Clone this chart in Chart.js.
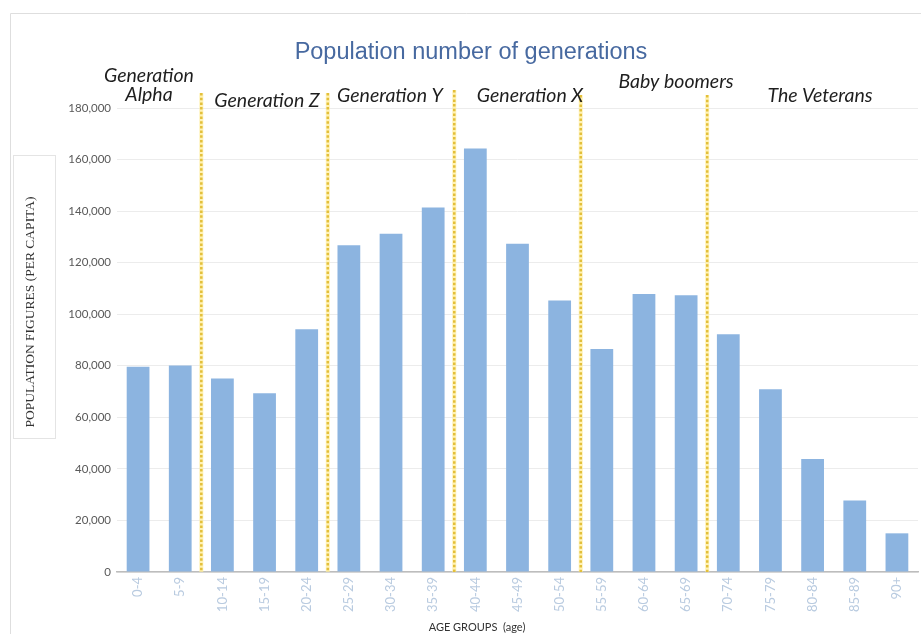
<!DOCTYPE html>
<html>
<head>
<meta charset="utf-8">
<script src="https://cdn.jsdelivr.net/npm/chart.js@4.4.1/dist/chart.umd.min.js"></script>
<style>
  html, body { margin: 0; padding: 0; background: #ffffff; }
  #wrap { width: 921px; height: 634px; position: relative; }
  canvas { display: block; }
</style>
</head>
<body>
<div id="wrap"><canvas id="chart" width="921" height="634"></canvas></div>
<script>
// Age groups on the category axis
const ageGroups = ["0-4", "5-9", "10-14", "15-19", "20-24", "25-29", "30-34", "35-39", "40-44",
  "45-49", "50-54", "55-59", "60-64", "65-69", "70-74", "75-79", "80-84", "85-89", "90+"];

// Population per age group
const population = [79600, 80100, 75100, 69300, 94200, 126800, 131200, 141400, 164300,
  127300, 105300, 86500, 107800, 107400, 92200, 70900, 43800, 27700, 15000];

// Value axis range and step
const yMax = 180000;
const yStep = 20000;

// Generation names (multi-line where wrapped) and the first age group of each generation
const generationNames = [["Generation", "Alpha"], ["Generation Z"], ["Generation Y"],
  ["Generation X"], ["Baby boomers"], ["The Veterans"]];
const generationStarts = ["0-4", "10-14", "25-29", "40-44", "55-59", "70-74"];

const chartTitle = "Population number of generations";
const yAxisTitle = "POPULATION FIGURES (PER CAPITA)";
const xAxisTitle = "AGE GROUPS  (age)";

// Where each generation name sits (centre x, baseline y of first line)
const generationLabelAnchors = [
  { x: 149, y: 82 }, { x: 267, y: 107 }, { x: 390, y: 102 },
  { x: 530, y: 102 }, { x: 676, y: 88 }, { x: 820, y: 102 }
];
// Top end of each dotted divider, one per generation boundary
const dividerTops = [93, 93, 90, 95, 95];

const decorPlugin = {
  id: 'decor',
  beforeDraw(chart) {
    const ctx = chart.ctx;
    ctx.save();
    // outer frame
    ctx.strokeStyle = '#dedede';
    ctx.lineWidth = 1;
    ctx.beginPath();
    ctx.moveTo(10.5, 640);
    ctx.lineTo(10.5, 13.5);
    ctx.lineTo(930, 13.5);
    ctx.stroke();
    // box around the value-axis title
    ctx.strokeStyle = '#e4e4e4';
    ctx.strokeRect(13.5, 155.5, 42, 283);
    ctx.restore();
  },
  afterDatasetsDraw(chart) {
    const ctx = chart.ctx;
    const xs = chart.scales.x;
    const area = chart.chartArea;
    ctx.save();
    generationStarts.slice(1).forEach((label, k) => {
      const i = ageGroups.indexOf(label);
      const x = (xs.getPixelForValue(i - 1) + xs.getPixelForValue(i)) / 2;
      const top = dividerTops[k];
      // pale band under the dots
      ctx.strokeStyle = 'rgba(255, 236, 150, 0.7)';
      ctx.lineWidth = 4;
      ctx.setLineDash([]);
      ctx.beginPath();
      ctx.moveTo(x, top);
      ctx.lineTo(x, area.bottom);
      ctx.stroke();
      // dots
      ctx.strokeStyle = '#e3bf3a';
      ctx.lineWidth = 2.5;
      ctx.setLineDash([2.5, 2.2]);
      ctx.beginPath();
      ctx.moveTo(x, top);
      ctx.lineTo(x, area.bottom);
      ctx.stroke();
    });
    ctx.restore();
  },
  afterDraw(chart) {
    const ctx = chart.ctx;
    ctx.save();
    // chart title
    ctx.fillStyle = '#4769a0';
    ctx.font = '23.5px "Liberation Sans", Arial, sans-serif';
    ctx.textAlign = 'center';
    ctx.textBaseline = 'alphabetic';
    ctx.fillText(chartTitle, 471, 59);

    // generation names
    ctx.fillStyle = '#1e1e1e';
    ctx.font = 'italic 19.5px Lato, sans-serif';
    generationNames.forEach((lines, k) => {
      const a = generationLabelAnchors[k];
      lines.forEach((line, j) => ctx.fillText(line, a.x, a.y + j * 19));
    });

    // category-axis title
    ctx.fillStyle = '#333333';
    ctx.font = '11px Lato, sans-serif';
    ctx.fillText(xAxisTitle, 477, 631);

    // value-axis title
    ctx.translate(30, 312);
    ctx.rotate(-Math.PI / 2);
    ctx.fillStyle = '#333333';
    ctx.font = '13.5px "Liberation Serif", "Times New Roman", serif';
    ctx.textBaseline = 'middle';
    ctx.fillText(yAxisTitle, 0, 0);
    ctx.restore();
  }
};

new Chart(document.getElementById('chart'), {
  type: 'bar',
  data: {
    labels: ageGroups,
    datasets: [{
      data: population,
      backgroundColor: '#8cb4e0',
      borderWidth: 0,
      barPercentage: 0.54,
      categoryPercentage: 1
    }]
  },
  options: {
    responsive: false,
    animation: false,
    devicePixelRatio: 1,
    layout: { padding: { left: 10, right: 3, top: 108, bottom: 0 } },
    plugins: {
      legend: { display: false },
      tooltip: { enabled: false },
      title: { display: false }
    },
    scales: {
      x: {
        grid: { display: false, drawTicks: false },
        border: { display: true, color: '#bdbdbd', width: 1.5 },
        ticks: {
          minRotation: 90,
          maxRotation: 90,
          autoSkip: false,
          padding: 5,
          color: '#b9cbe0',
          font: { family: 'Lato', size: 13 }
        },
        afterFit(scale) { scale.height = 62; }
      },
      y: {
        min: 0,
        max: yMax,
        grid: { color: '#ececec', lineWidth: 1, drawTicks: false },
        border: { display: false },
        ticks: {
          stepSize: yStep,
          padding: 6,
          color: '#595959',
          font: { family: 'Lato', size: 11.5 },
          callback: (v) => v.toLocaleString('en-US')
        },
        afterFit(scale) { scale.width = 107; }
      }
    }
  },
  plugins: [decorPlugin]
});
</script>
</body>
</html>
